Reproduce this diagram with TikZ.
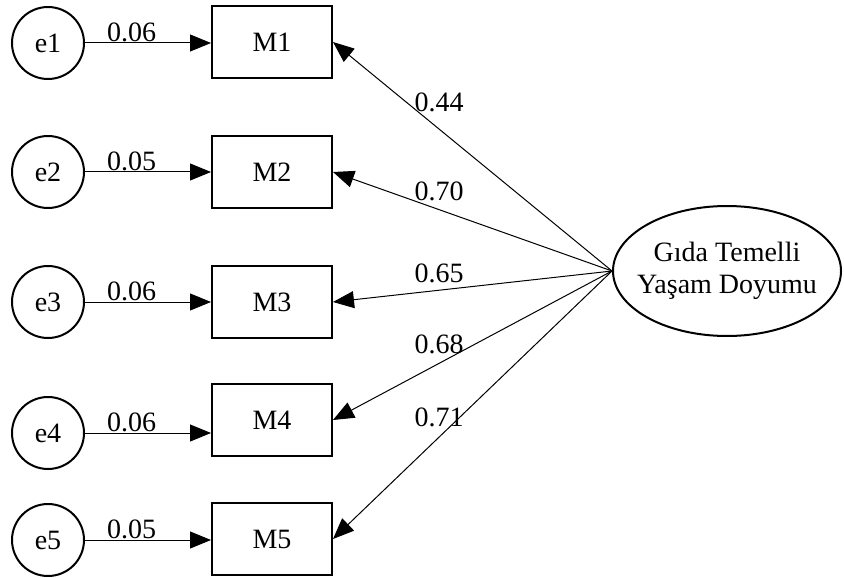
\documentclass[tikz,border=0pt]{standalone}
\usepackage{fontspec}
\setmainfont{Liberation Serif}
\usetikzlibrary{arrows.meta,shapes.geometric}

\begin{document}
\begin{tikzpicture}[x=0.5pt,y=-0.5pt,
every node/.style={font=\fontsize{14}{16}\selectfont},
err/.style={draw,circle,line width=1pt,minimum size=36pt,inner sep=0pt},
obs/.style={draw,rectangle,line width=1pt,minimum width=60pt,minimum height=36pt,inner sep=0pt},
lat/.style={draw,ellipse,line width=1pt,minimum width=114pt,minimum height=65pt,inner xsep=-7pt,inner ysep=0pt,align=center},
reg/.style={line width=0.5pt,-{Triangle[length=10.5pt,width=8.5pt]}},
lbl/.style={inner sep=0pt}]

\useasboundingbox (0,0) rectangle (844,577);

\node[lat] (gtyd) at (727,271) {Gıda Temelli\\Yaşam Doyumu};

\foreach \i/\ye/\ym/\w/\l/\s in {1/43/42/0.06/0.44/13.5,2/172/172/0.05/0.70/9,3/302/302/0.06/0.65/8.5,4/433/420/0.06/0.68/9.5,5/540/539/0.05/0.71/10}
{
\node[err] (e\i) at (48,\ye) {e\i};
\node[obs] (M\i) at (272,\ym) {M\i};
\draw[reg] (e\i) -- node[lbl,pos=0.37,yshift=5.5pt] {\w} (e\i -| M\i.west);
\draw[reg] (gtyd.west) -- node[lbl,pos=0.62,yshift=\s pt] {\l} (M\i.east);
}
\end{tikzpicture}
\end{document}
